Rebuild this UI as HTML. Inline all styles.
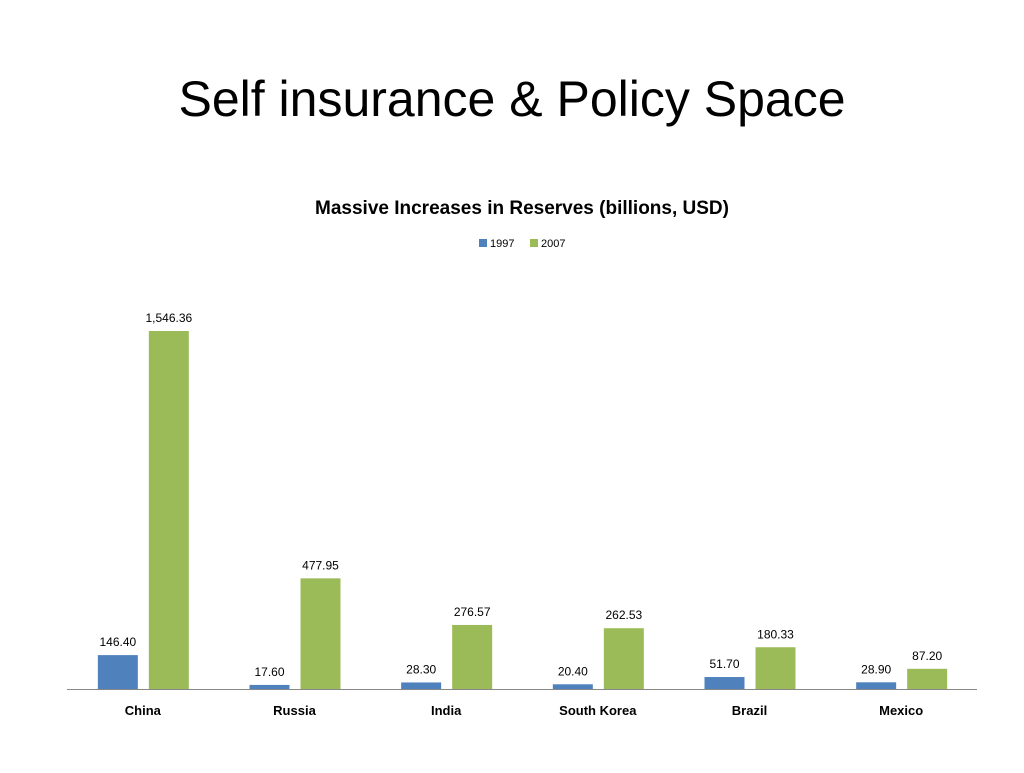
<!DOCTYPE html>
<html><head><meta charset="utf-8"><style>
body{margin:0;background:#fff;width:1024px;height:768px;overflow:hidden;font-family:"Liberation Sans",sans-serif}
</style></head><body>
<svg id="c" width="1024" height="768" xmlns="http://www.w3.org/2000/svg">
<text x="512" y="116" text-anchor="middle" font-size="50" fill="#000">Self insurance &amp; Policy Space</text>
<text x="522" y="214" text-anchor="middle" font-size="19" font-weight="bold" fill="#000">Massive Increases in Reserves (billions, USD)</text>
<g>
<rect x="479" y="239" width="8" height="8" fill="#4F81BD"/>
<text x="490" y="247" font-size="11">1997</text>
<rect x="530" y="239" width="8" height="8" fill="#9BBB59"/>
<text x="541" y="247" font-size="11">2007</text>
</g>
<line x1="67" y1="689.5" x2="977" y2="689.5" stroke="#888" stroke-width="1"/>
<g id="bars"></g>
</svg>
<script>
const categories=["China","Russia","India","South Korea","Brazil","Mexico"];
const values1997=[146.40,17.60,28.30,20.40,51.70,28.90];
const values2007=[1546.36,477.95,276.57,262.53,180.33,87.20];
const x0=67,x1=977,base=689,scale=358/1546.36;
const band=(x1-x0)/categories.length;
const cx=i=>x0+band*(i+0.5);
const y=v=>base-v*scale;
const g=document.getElementById('bars');
const NS="http://www.w3.org/2000/svg";
function fmt(v){return v.toLocaleString('en-US',{minimumFractionDigits:2,maximumFractionDigits:2});}
categories.forEach((c,i)=>{
  [[values1997,"#4F81BD",-45,"1997"],[values2007,"#9BBB59",6,"2007"]].forEach(([arr,col,off,yr])=>{
    const r=document.createElementNS(NS,'rect');
    r.setAttribute('x',cx(i)+off);r.setAttribute('y',y(arr[i]));
    r.setAttribute('width',40);r.setAttribute('height',base-y(arr[i]));
    r.setAttribute('fill',col);
    
    
    g.appendChild(r);
    const t=document.createElementNS(NS,'text');
    t.setAttribute('x',cx(i)+off+20);t.setAttribute('y',y(arr[i])-9);
    t.setAttribute('text-anchor','middle');t.setAttribute('font-size','12');
    t.textContent=fmt(arr[i]);
    
    
    g.appendChild(t);
  });
  const l=document.createElementNS(NS,'text');
  l.setAttribute('x',cx(i));l.setAttribute('y',715);
  l.setAttribute('text-anchor','middle');l.setAttribute('font-size','13');l.setAttribute('font-weight','bold');
  l.textContent=c;
  
  
  g.appendChild(l);
});
</script>
</body></html>
